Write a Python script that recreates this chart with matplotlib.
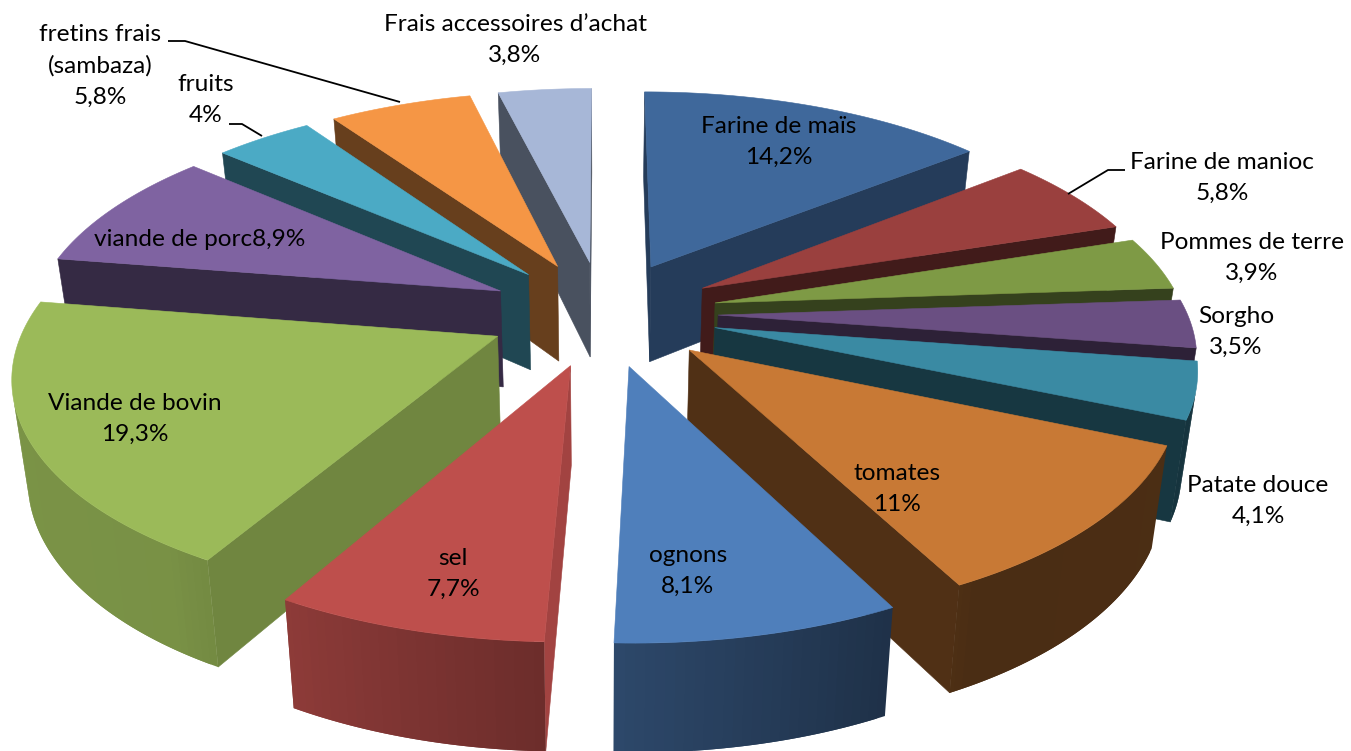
import numpy as np
import matplotlib
matplotlib.use("Agg")
import matplotlib.pyplot as plt
from matplotlib.patches import Polygon

# Chart data
names = ["Farine de maïs", "Farine de manioc", "Pommes de terre", "Sorgho", "Patate douce",
         "tomates", "ognons", "sel", "Viande de bovin", "viande de porc", "fruits",
         "fretins frais\n(sambaza)", "Frais accessoires d’achat"]
values = [14.2, 5.8, 3.9, 3.5, 4.1, 11, 8.1, 7.7, 19.3, 8.9, 4, 5.8, 3.8]

# Styles per slice
top_colors = ["#3F689B", "#9A403E", "#7E9A45", "#6A4F82", "#3A8AA3", "#C87935",
              "#4F7FBB", "#BE4F4C", "#9BBA59", "#7F63A1", "#4BAAC5", "#F59645", "#A7B7D7"]
wall_shade = [0.58, 0.42, 0.42, 0.42, 0.40, 0.40, 0.45, 0.85, 0.72, 0.42, 0.42, 0.42, 0.44]
label_xy = [(779, 142), (1222, 178), (1252, 258), (1236, 332), (1258, 501), (897, 489),
            (688, 571), (453, 574), (135, 419), (200, 239), (206, 100), (100, 66), (515, 40)]
leaders = [[(168, 41), (185, 41), (400, 102)],
           [(229, 124), (242, 124), (262, 136)],
           [(1125, 170), (1108, 170), (1068, 194)]]

# Projection of the 3D pie
CX, CY = 603, 313
R = 469
EXPLODE = 115
SQUASH = 0.459
PERSP = 0.00033
WALL = 97
WALL_SLOPE = 0.0217
INWARD = 0.973


def project(X, Y):
    s = 1 / (1 + PERSP * Y)
    return CX + s * X, CY - s * Y * SQUASH


def lower(px, py, Y):
    return CX + (px - CX) * INWARD, py + WALL - WALL_SLOPE * Y


def arc_shade(t):
    # light comes from the left of the pie
    return float(np.interp(t, [0, 150, 215, 285, 360], [0.40, 0.37, 0.78, 0.80, 0.45]))


def darker(color, k):
    return tuple(c * k for c in matplotlib.colors.to_rgb(color))


def visible(quad):
    q = np.array(quad)
    x, y = q[:, 0], q[:, 1]
    return np.sum(x * np.roll(y, -1) - np.roll(x, -1) * y) < 0


def draw_slice(ax, t0, t1, color, shade):
    mid = np.radians((t0 + t1) / 2)
    ox, oy = EXPLODE * np.sin(mid), EXPLODE * np.cos(mid)
    angles = np.append(np.arange(t0, t1, 1.0), t1)
    rad = np.radians(angles)
    Xs = ox + R * np.sin(rad)
    Ys = oy + R * np.cos(rad)
    top_x, top_y = project(Xs, Ys)
    bot_x, bot_y = lower(top_x, top_y, Ys)
    tip = project(ox, oy)
    tip_low = lower(tip[0], tip[1], oy)

    # radial walls
    wall_a = [tip, (top_x[0], top_y[0]), (bot_x[0], bot_y[0]), tip_low]
    wall_b = [(top_x[-1], top_y[-1]), tip, tip_low, (bot_x[-1], bot_y[-1])]
    dark = darker(color, shade)
    for quad in (wall_a, wall_b):
        if visible(quad):
            ax.add_patch(Polygon(quad, closed=True, fc=dark, ec=dark, lw=0.4))

    # outer wall, quads overlap the next step so no seams show
    for i in range(len(angles) - 1):
        j = min(i + 2, len(angles) - 1)
        quad = [(top_x[i], top_y[i]), (top_x[i + 1], top_y[i + 1]), (top_x[j], top_y[j]),
                (bot_x[j], bot_y[j]), (bot_x[i + 1], bot_y[i + 1]), (bot_x[i], bot_y[i])]
        if visible(quad):
            ax.add_patch(Polygon(quad, closed=True, fc=darker(color, arc_shade(angles[i])), lw=0))

    outline = [tip] + list(zip(top_x, top_y))
    ax.add_patch(Polygon(outline, closed=True, fc=color, ec=color, lw=0.4))


def main():
    plt.rcParams['font.family'] = ['Lato', 'DejaVu Sans']
    fig = plt.figure(figsize=(13.51, 7.51), dpi=100)
    ax = fig.add_axes([0, 0, 1, 1])
    ax.set_xlim(0, 1351)
    ax.set_ylim(751, 0)
    ax.axis('off')

    # Slices run clockwise from the top, drawn back to front
    edges = np.cumsum([0] + values) / np.sum(values) * 360
    mids = (edges[:-1] + edges[1:]) / 2
    order = np.argsort(-np.cos(np.radians(mids)))
    for i in order:
        draw_slice(ax, edges[i], edges[i + 1], top_colors[i], wall_shade[i])

    for pts in leaders:
        xs, ys = zip(*pts)
        ax.plot(xs, ys, color='black', lw=1.3, solid_capstyle='butt')

    for i, (name, v) in enumerate(zip(names, values)):
        pct = f"{v:g}".replace('.', ',') + "%"
        sep = "" if name == "viande de porc" else "\n"
        ax.text(label_xy[i][0], label_xy[i][1], name + sep + pct, ha='center', va='center',
                ma='center', fontsize=17.6, linespacing=1.58, color='black')

    fig.savefig("out.png", dpi=100)
    plt.close(fig)


if __name__ == "__main__":
    main()
